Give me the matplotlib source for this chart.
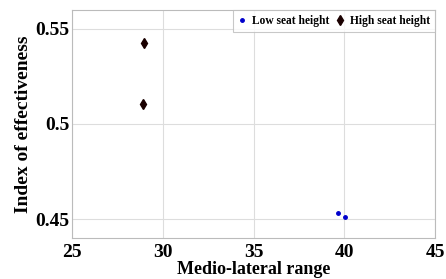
import matplotlib
matplotlib.use("Agg")
import matplotlib.pyplot as plt

plt.rcParams['font.family'] = ['Liberation Serif', 'DejaVu Serif']
plt.rcParams['font.weight'] = 'bold'

# data
low_x = [39.65, 40.02]
low_y = [0.4529, 0.4509]
high_x = [28.95, 28.9]
high_y = [0.5425, 0.5105]
xticks = [25, 30, 35, 40, 45]
yticks = [0.45, 0.5, 0.55]
yticklabels = ['0.45', '0.5', '0.55']

fig = plt.figure(figsize=(4.46, 2.79), dpi=100)
ax = fig.add_axes([72/446, 1-238/279, (435-72)/446, (238-10)/279])

ax.plot(low_x, low_y, ls='none', marker='o', ms=2.5, color='#0000cc', label='Low seat height')
ax.plot(high_x, high_y, ls='none', marker='d', ms=5, color='#1a0000', mec='#1a0000', label='High seat height')

ax.set_xlim(25, 45)
ax.set_ylim(0.44, 0.56)
ax.set_xticks(xticks)
ax.set_yticks(yticks)
ax.set_yticklabels(yticklabels)
ax.grid(True, color='#dddddd', lw=0.8)
ax.tick_params(axis='x', labelsize=14, length=0, pad=4)
ax.tick_params(axis='y', labelsize=14, length=0, pad=2)
for s in ax.spines.values():
    s.set_color('#bbbbbb')
    s.set_linewidth(0.8)

ax.set_xlabel('Medio-lateral range', fontsize=13, fontweight='bold', labelpad=0)
ax.set_ylabel('Index of effectiveness', fontsize=14, fontweight='bold', labelpad=2)

leg = ax.legend(loc='upper right', ncol=2, fontsize=8.3, frameon=True, fancybox=False,
                borderaxespad=0, handlelength=0.8, handletextpad=0.4, columnspacing=0.6,
                borderpad=0.45, edgecolor='#bbbbbb')
leg.get_frame().set_linewidth(0.8)

fig.savefig('out.png', dpi=100)
